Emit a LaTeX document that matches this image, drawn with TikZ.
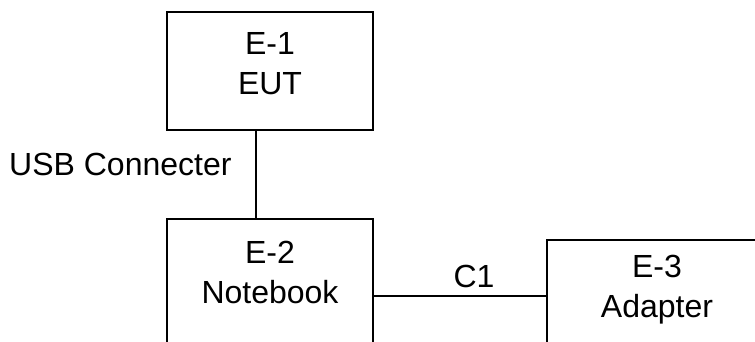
\documentclass[tikz,border=0pt]{standalone}
\usepackage{fontspec}
\setmainfont{Liberation Sans}
\begin{document}
\begin{tikzpicture}[x=1pt,y=-1pt,
  box/.style={draw=black,line width=1.5pt,rectangle,inner sep=0pt},
  txt/.style={align=center,inner sep=0pt,font=\fontsize{32}{40}\selectfont},
  wire/.style={draw=black,line width=1.5pt}]
\useasboundingbox (0,0) rectangle (755,341);
\clip (0,0) rectangle (755,341);
\node[box,minimum width=206pt,minimum height=118pt] (e1) at (270,71) {};
\node[box,minimum width=206pt,minimum height=154pt] (e2) at (270,296) {};
\node[box,minimum width=213pt,minimum height=112pt] (e3) at (653.5,296) {};
\node[txt] (t1) at (270,64) {E-1\\EUT};
\node[txt] (t2) at (270,272.5) {E-2\\Notebook};
\node[txt] (t3) at (657,290) {E-3\\Adapter};
\node[txt,anchor=west] (usb) at (9,164) {USB Connecter};
\node[txt] (c1) at (474,276) {C1};
\draw[wire] ([xshift=-14pt]e1.south) -- ([xshift=-14pt]e1.south |- e2.north);
\draw[wire] (e2.east) -- (e3.west);
\end{tikzpicture}
\end{document}
